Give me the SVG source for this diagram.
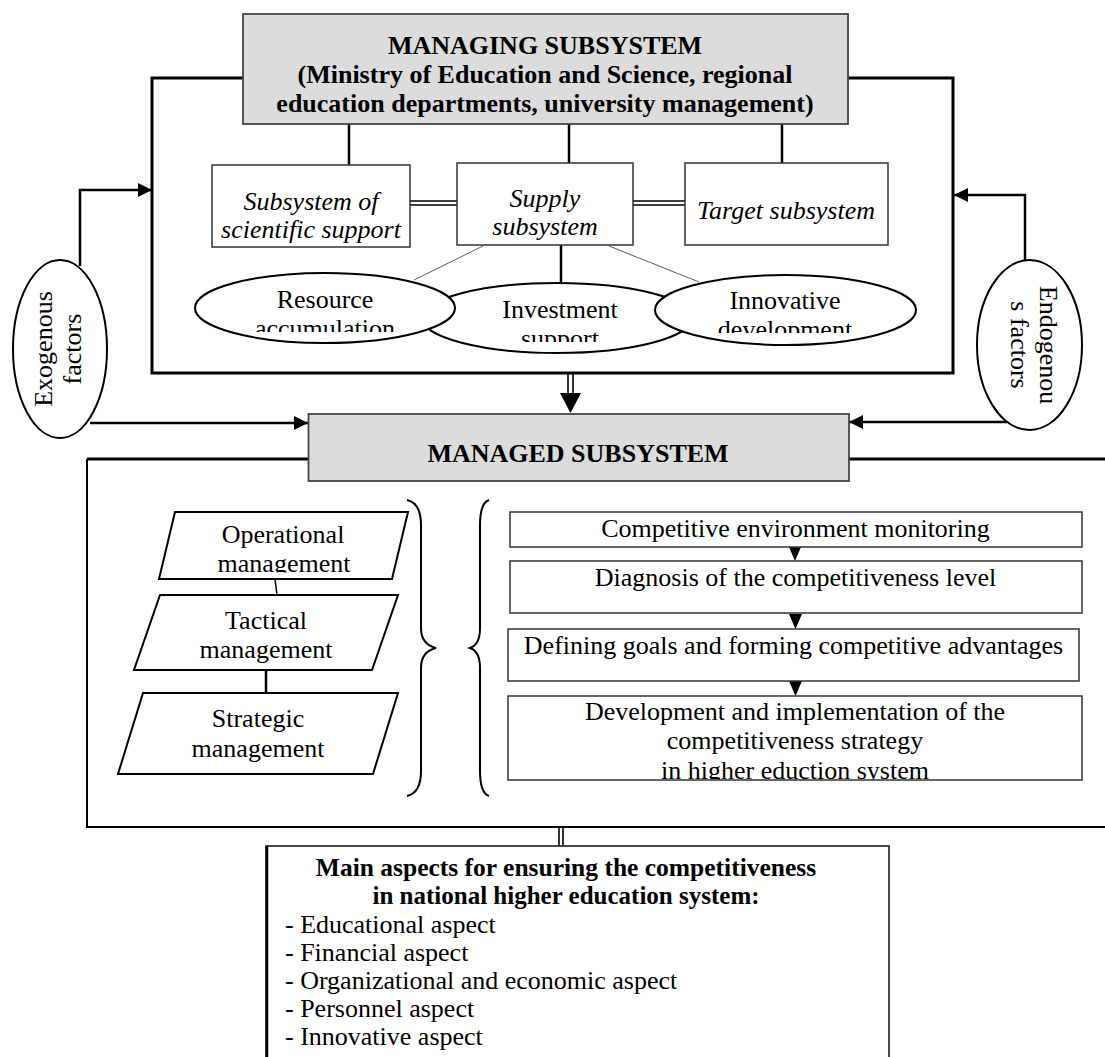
<svg xmlns="http://www.w3.org/2000/svg" width="1105" height="1057" viewBox="0 0 1105 1057">
<style>
 text{font-family:"Liberation Serif","Times New Roman",serif;font-size:26px;fill:#000}
 .b{font-weight:bold}
 .i{font-style:italic}
 .m{text-anchor:middle}
 .box{fill:#fff;stroke:#333;stroke-width:1.5}
 .grey{fill:#dcdcdc;stroke:#444;stroke-width:1.8}
 .ol{fill:#fff;stroke:#000;stroke-width:2}
 .ln{fill:none;stroke:#000;stroke-width:2.5}
 .fr{fill:none;stroke:#000;stroke-width:3}
 .dbl{fill:none;stroke:#000;stroke-width:1.6}
 .thin{fill:none;stroke:#333;stroke-width:0.8}
 .ah{fill:#000}
</style>
<defs>
 <marker id="arr" viewBox="0 0 10 10" refX="10" refY="5" markerUnits="userSpaceOnUse" markerWidth="17" markerHeight="14" orient="auto">
  <path d="M0,0 L10,5 L0,10 z" fill="#000"/>
 </marker>
 <clipPath id="cRes"><rect x="190" y="270" width="270" height="62"/></clipPath>
 <clipPath id="cInv"><rect x="420" y="280" width="280" height="62"/></clipPath>
 <clipPath id="cInn"><rect x="650" y="270" width="270" height="63"/></clipPath>
 <clipPath id="cOp"><rect x="150" y="505" width="270" height="67.5"/></clipPath>
 <clipPath id="cDev"><rect x="505" y="696" width="580" height="83.5"/></clipPath>
</defs>

<!-- frames -->
<g id="managing-frame">
 <path class="fr" d="M243,78 H152 V373 H953 V78 H848"/>
</g>
<g id="managed-frame">
 <path class="fr" d="M308,459 H87"/>
 <path class="fr" d="M849,459 H1105"/>
 <path fill="none" stroke="#000" stroke-width="2" d="M87,459 V827 H1105"/>
</g>

<!-- connectors -->
<g id="connectors">
 <path class="ln" d="M349,124 V165"/>
 <path class="ln" d="M569,124 V163"/>
 <path class="ln" d="M782,124 V163"/>
 <path class="dbl" d="M410,201 H457 M410,205 H457"/>
 <path class="dbl" d="M633,201 H685 M633,205 H685"/>
 <path class="thin" d="M483,246 L414,280"/>
 <path class="thin" d="M609,246 L699,282"/>
 <path class="ln" d="M561,245 V284"/>
 <path class="ln" d="M80,266 V190 H152" marker-end="url(#arr)"/>
 <path class="ln" d="M90,423 H308" marker-end="url(#arr)"/>
 <path class="ln" d="M1025,262 V195 H954" marker-end="url(#arr)"/>
 <path class="ln" d="M1007,422 H849" marker-end="url(#arr)"/>
 <path class="dbl" d="M568,374 V396 M573,374 V396" stroke-width="2"/>
 <polygon class="ah" points="560,393 581,393 570.5,413"/>
 <path fill="none" stroke="#000" stroke-width="1.5" d="M275,579 L277,595"/>
 <path class="ln" d="M266,670 V693"/>
 <polygon class="ah" points="789,547 801,547 795,561"/>
 <polygon class="ah" points="789,614 802,614 795.5,629"/>
 <polygon class="ah" points="789,681 802,681 795.5,696"/>
 <path class="dbl" d="M559,827 V846 M563,827 V846"/>
</g>

<g id="managing">
 <rect class="grey" x="243" y="14" width="605" height="110"/>
 <text class="b m" x="545" y="54">MANAGING SUBSYSTEM</text>
 <text class="b m" x="545" y="83">(Ministry of Education and Science, regional</text>
 <text class="b m" x="545" y="112">education departments, university management)</text>
</g>

<g id="scientific">
 <rect class="box" x="212" y="165" width="198" height="82"/>
 <text class="i m" x="311" y="210">Subsystem of</text>
 <text class="i m" x="311" y="238">scientific support</text>
</g>
<g id="supply">
 <rect class="box" x="457" y="163" width="176" height="82"/>
 <text class="i m" x="545" y="207">Supply</text>
 <text class="i m" x="545" y="235">subsystem</text>
</g>
<g id="target">
 <rect class="box" x="685" y="163" width="203" height="82"/>
 <text class="i m" x="786" y="219">Target subsystem</text>
</g>

<g id="investment">
 <ellipse class="ol" cx="557" cy="318" rx="135" ry="35"/>
 <g clip-path="url(#cInv)">
  <text class="m" x="560" y="318">Investment</text>
  <text class="m" x="560" y="347">support</text>
 </g>
</g>
<g id="resource">
 <ellipse class="ol" cx="325" cy="308" rx="130" ry="35"/>
 <g clip-path="url(#cRes)">
  <text class="m" x="325" y="308">Resource</text>
  <text class="m" x="325" y="337">accumulation</text>
 </g>
</g>
<g id="innovative">
 <ellipse class="ol" cx="785.5" cy="310" rx="130.5" ry="35"/>
 <g clip-path="url(#cInn)">
  <text class="m" x="785" y="309">Innovative</text>
  <text class="m" x="785" y="338">development</text>
 </g>
</g>

<g id="exogenous">
 <ellipse class="ol" cx="60" cy="349" rx="47" ry="89"/>
 <text class="m" transform="translate(52,349) rotate(-90)"><tspan x="0" y="0">Exogenous</tspan><tspan x="0" y="29">factors</tspan></text>
</g>
<g id="endogenous">
 <ellipse class="ol" cx="1029.5" cy="345" rx="52.5" ry="85"/>
 <text class="m" transform="translate(1040,345) rotate(90)"><tspan x="0" y="0">Endogenou</tspan><tspan x="0" y="29">s factors</tspan></text>
</g>

<g id="managed">
 <rect class="grey" x="308.5" y="414" width="540.5" height="67"/>
 <text class="b m" x="578" y="462">MANAGED SUBSYSTEM</text>
</g>

<g id="operational">
 <polygon class="ol" points="175,512 408,512 392,579 159,579"/>
 <g clip-path="url(#cOp)">
  <text class="m" x="283" y="543">Operational</text>
  <text class="m" x="284" y="572">management</text>
 </g>
</g>
<g id="tactical">
 <polygon class="ol" points="160,595 398,595 372,670 134,670"/>
 <text class="m" x="266" y="629">Tactical</text>
 <text class="m" x="266" y="658">management</text>
</g>
<g id="strategic">
 <polygon class="ol" points="143,693 398,693 373,774 118,774"/>
 <text class="m" x="258" y="727">Strategic</text>
 <text class="m" x="258" y="757">management</text>
</g>

<g id="braces">
 <path fill="none" stroke="#000" stroke-width="2" d="M407,500 C416,502 421,510 421,525 L421,628 C421,640 428,646 436,648 C428,650 421,656 421,668 L421,771 C421,786 416,794 407,796"/>
 <path fill="none" stroke="#000" stroke-width="2" d="M489,500 C483,502 480,510 480,525 L480,628 C480,640 476,646 470,648 C476,650 480,656 480,668 L480,771 C480,786 483,794 489,796"/>
</g>

<g id="monitoring">
 <rect class="box" x="510" y="512" width="572" height="35"/>
 <text class="m" x="795.5" y="537">Competitive environment monitoring</text>
</g>
<g id="diagnosis">
 <rect class="box" x="510" y="561" width="572" height="52"/>
 <text class="m" x="795.5" y="586">Diagnosis of the competitiveness level</text>
</g>
<g id="defining">
 <rect class="box" x="508" y="629" width="571" height="52"/>
 <text class="m" x="793.5" y="654">Defining goals and forming competitive advantages</text>
</g>
<g id="development">
 <rect class="box" x="508" y="696" width="574" height="84"/>
 <g clip-path="url(#cDev)">
  <text class="m" x="795" y="720">Development and implementation of the</text>
  <text class="m" x="795" y="749">competitiveness strategy</text>
  <text class="m" x="795" y="779">in higher eduction system</text>
 </g>
</g>

<g id="aspects">
 <rect x="266" y="846" width="623" height="230" fill="#fff" stroke="#333" stroke-width="1.8"/>
 <path stroke="#000" stroke-width="2.5" d="M267,846 V1060"/>
 <text class="b m" x="566" y="876" font-size="25.5" style="font-size:25.5px">Main aspects for ensuring the competitiveness</text>
 <text class="b m" x="566" y="904" style="font-size:25px">in national higher education system:</text>
 <text x="285" y="933">- Educational aspect</text>
 <text x="285" y="961">- Financial aspect</text>
 <text x="285" y="989">- Organizational and economic aspect</text>
 <text x="285" y="1017">- Personnel aspect</text>
 <text x="285" y="1045">- Innovative aspect</text>
</g>
</svg>
